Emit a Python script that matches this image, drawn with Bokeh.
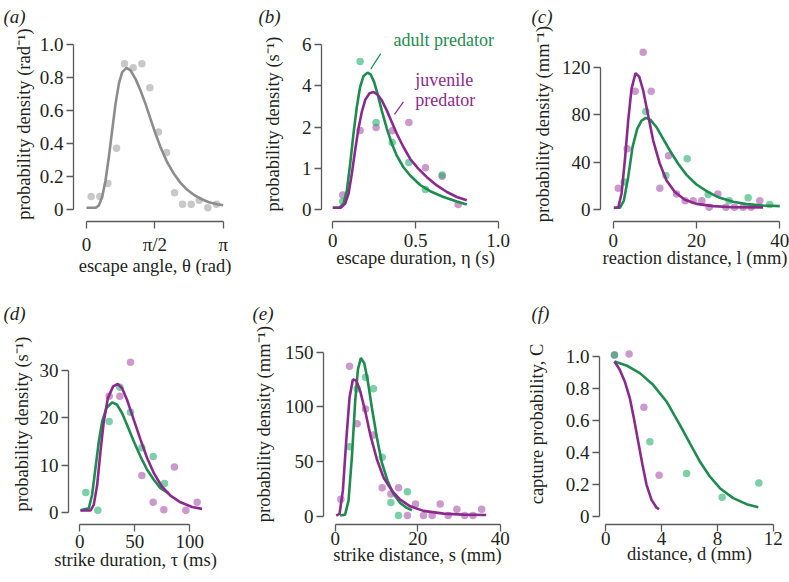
import numpy as np
from bokeh.plotting import figure
from bokeh.layouts import row, column
from bokeh.models import Label, FixedTicker, Range1d, Title
from bokeh.embed import file_html
from bokeh.resources import INLINE

SERIF = "Liberation Serif"
FS = "19px"
FS_LABEL = "18.5px"
GREEN_LINE = "#1e8c4e"
PURPLE_LINE = "#8b2a8d"
GREEN_PT = "#25af6b"
PURPLE_PT = "#aa55aa"
GRAY_LINE = "#8c8c8c"
GRAY_PT = "#c8c8c8"
AXIS_COLOR = "#5a5a5a"
TEXT_COLOR = "#231f20"

# ---------------- data ----------------
# (a) escape angle
a_bin_x = [0.107, 0.307, 0.49, 0.69, 0.873, 1.073, 1.272, 1.456, 1.655, 1.839,
           2.023, 2.207, 2.406, 2.59, 2.789, 2.988]
a_bin_y = [0.081, 0.081, 0.159, 0.373, 0.883, 0.859, 0.883, 0.738, 0.47, 0.347,
           0.103, 0.034, 0.034, 0.058, 0.012, 0.034]
a_fit_x = [0, 0.207, 0.283, 0.36, 0.437, 0.513, 0.59, 0.667, 0.743, 0.82, 0.92,
           1.011, 1.126, 1.241, 1.356, 1.471, 1.586, 1.701, 1.854, 2.007, 2.161,
           2.314, 2.467, 2.621, 2.812, 3.003, 3.141]
a_fit_y = [0.012, 0.012, 0.026, 0.077, 0.177, 0.318, 0.48, 0.641, 0.762, 0.833,
           0.859, 0.843, 0.792, 0.722, 0.641, 0.55, 0.46, 0.379, 0.288, 0.218,
           0.163, 0.121, 0.091, 0.067, 0.046, 0.034, 0.028]

# (b) escape duration (values in axis-label units: ticks 0,1,2,4,6)
b_adult_x = [0.06, 0.165, 0.262, 0.359, 0.46, 0.56, 0.661]
b_adult_y = [0.2, 5.18, 2.22, 1.63, 1.145, 0.49, 0.84]
b_juv_x = [0.06, 0.165, 0.262, 0.359, 0.46, 0.56, 0.661, 0.758]
b_juv_y = [0.36, 1.92, 1.99, 1.91, 2.22, 1.02, 0.81, 0.13]
b_adult_fit_x = [0, 0.04, 0.065, 0.085, 0.105, 0.125, 0.145, 0.165, 0.185, 0.21,
                 0.23, 0.25, 0.27, 0.296, 0.327, 0.357, 0.387, 0.427, 0.468,
                 0.528, 0.589, 0.669, 0.75, 0.81]
b_adult_fit_y = [0.05, 0.05, 0.15, 0.47, 1.11, 1.84, 2.96, 3.94, 4.46, 4.64,
                 4.54, 4.18, 3.62, 2.80, 1.96, 1.60, 1.31, 1.03, 0.83, 0.60,
                 0.45, 0.31, 0.20, 0.13]
b_juv_fit_x = [0, 0.048, 0.075, 0.095, 0.115, 0.135, 0.155, 0.175, 0.196, 0.222,
               0.246, 0.27, 0.296, 0.327, 0.357, 0.387, 0.427, 0.468, 0.518,
               0.569, 0.629, 0.69, 0.75, 0.81]
b_juv_fit_y = [0.05, 0.05, 0.15, 0.39, 0.87, 1.44, 1.96, 2.72, 3.32, 3.64, 3.70,
               3.58, 3.30, 2.80, 2.24, 1.84, 1.52, 1.23, 0.99, 0.79, 0.59, 0.43,
               0.31, 0.23]
b_tick_values = [0, 1, 2, 4, 6]

# (c) reaction distance
c_juv_x = [1.2, 3.36, 5.28, 7.2, 9.12, 11.2, 13.28, 15.2, 17.28, 19.2, 21.28,
           23.04, 25.12, 27.04, 29.12, 31.2, 33.12, 35.2]
c_juv_y = [18.2, 51.3, 99.8, 132.6, 99.8, 18.2, 45.4, 13.2, 7.6, 7.6, 7.6, 2.2,
           13.2, 2.2, 2.2, 2.2, 2.2, 7.6]
c_adult_x = [2.64, 7.84, 12.64, 17.76, 22.8, 27.84, 32.4, 37.6]
c_adult_y = [23.3, 82.7, 28.9, 42.9, 12.9, 7.6, 10.1, 4.5]
c_juv_fit_x = [0.16, 1.2, 2.0, 2.8, 3.6, 4.4, 5.36, 6.24, 7.2, 8.4, 9.6, 11.2,
               12.8, 14.8, 17.2, 20, 24, 28.8, 36]
c_juv_fit_y = [1.7, 1.7, 13.5, 41.5, 75.1, 101.8, 115, 112.1, 100.4, 79.3, 58.3,
               38.7, 24.7, 14.9, 8.4, 5.0, 3.1, 2.2, 2.0]
c_adult_fit_x = [0.16, 1.6, 2.56, 3.6, 4.64, 5.76, 6.8, 7.84, 8.96, 10.4, 12,
                 13.6, 15.6, 17.6, 20, 22.8, 25.6, 28.8, 32, 36, 40]
c_adult_fit_y = [1.7, 1.7, 7.8, 27.5, 52.7, 68.1, 75.1, 77.4, 75.7, 69.5, 59.7,
                 49.9, 38.7, 29.4, 21.3, 14.9, 10.1, 6.7, 4.8, 3.6, 3.1]

# (d) strike duration
d_adult_x = [5.45, 16.4, 26.7, 36.4, 46.1, 56.4, 66.7, 77]
d_adult_y = [4.18, 0.42, 19.25, 26.5, 21.2, 13.7, 11.8, 6.1]
d_juv_x = [26.7, 36.4, 46.1, 56.4, 66.7, 76.4, 86, 96.4, 106.7]
d_juv_y = [24.6, 24.6, 31.8, 7.8, 2.1, 0.5, 9.6, 0.42, 2.1]
d_adult_fit_x = [0.6, 8.2, 11.2, 14.2, 17.3, 20.3, 24.2, 29.4, 33.9, 38.5, 43,
                 49.1, 55.2, 61.2, 67.3, 73.3, 80.9]
d_adult_fit_y = [0.4, 0.85, 3.7, 9.3, 15, 19.2, 22.1, 23.3, 22.8, 21, 18.5, 15,
                 11.8, 9.0, 6.9, 5.1, 4.0]
d_juv_fit_x = [0.6, 9.7, 12.7, 15.8, 18.8, 21.8, 25.5, 30.3, 34.5, 38.5, 43,
               49.1, 55.2, 61.2, 67.3, 74.8, 82.4, 91.5, 102.1, 111.2]
d_juv_fit_y = [0.35, 0.35, 1.56, 5.8, 12.9, 19.2, 24.2, 26.7, 27.2, 26.3, 23.8,
               19.6, 15.4, 11.5, 8.3, 5.4, 3.5, 2.1, 1.1, 0.7]

# (e) strike distance
e_juv_x = [1.37, 3.47, 5.33, 7.35, 9.29, 11.39, 13.5, 15.35, 17.5, 19.47, 21.4,
           23.5, 25.45, 27.4, 29.5, 31.4, 33.4, 35.5]
e_juv_y = [15.5, 137.3, 84.7, 98.1, 74.4, 26.1, 20.3, 26.1, 0.6, 11.2, 0.6, 0.6,
           11.2, 0.6, 6.4, 0.6, 0.6, 6.4]
e_adult_x = [3.47, 5.33, 7.35, 9.29, 11.39, 13.5, 15.35, 17.5]
e_adult_y = [63.5, 116.6, 127.2, 116.6, 54.1, 12.5, 0.6, 22.5]
e_juv_fit_x = [0.24, 1.05, 1.86, 2.67, 3.47, 4.28, 5.09, 6.06, 7.27, 8.48, 10.1,
               11.72, 13.74, 15.76, 18.18, 21.4, 26.3, 31.1, 36.6]
e_juv_fit_y = [0.6, 2.1, 23.4, 68.9, 108.4, 125.1, 124.2, 114.5, 96.3, 75, 52.2,
               35.5, 23.4, 15.2, 9.1, 4.9, 2.4, 1.5, 1.2]
e_adult_fit_x = [1.2, 2.4, 3.23, 4.04, 4.85, 5.5, 6.22, 7.03, 7.84, 8.89, 10.1,
                 11.3, 12.69, 14.14, 15.76, 17.37, 18.6]
e_adult_fit_y = [0.6, 1.5, 14.3, 53.8, 105.4, 134.2, 144.8, 140.3, 125.1, 99.3,
                 72, 49.2, 32.5, 20.3, 12.1, 7.6, 5.5]

# (f) capture probability
f_adult_x = [0.62, 3.16, 5.79, 8.34, 10.97]
f_adult_y = [1.01, 0.467, 0.269, 0.121, 0.21]
f_juv_x = [0.62, 1.67, 2.73, 3.82]
f_juv_y = [1.01, 1.015, 0.683, 0.258]
f_juv_fit_x = [0.62, 1.0, 1.36, 1.72, 2.01, 2.32, 2.63, 2.92, 3.28, 3.63, 3.82]
f_juv_fit_y = [0.969, 0.917, 0.844, 0.74, 0.615, 0.469, 0.323, 0.198, 0.104,
               0.056, 0.046]
f_adult_fit_x = [0.62, 1.48, 2.44, 3.39, 4.35, 5.31, 6.02, 6.74, 7.46, 8.18,
                 9.13, 10.09, 10.93]
f_adult_fit_y = [0.969, 0.944, 0.896, 0.823, 0.719, 0.573, 0.458, 0.344, 0.25,
                 0.177, 0.115, 0.077, 0.058]

FIG_H = 291


def make_panel(fig_w, frame, xcal, ycal, xbounds, ybounds, xticks, yticks,
               xlabel, ylabel, letter, letter_x, xstand, ystand):
    L, T, R, B = frame
    xv1, xp1, xv2, xp2 = xcal
    sx = (xp2 - xp1) / (xv2 - xv1)
    x0 = xv1 + (L - xp1) / sx
    x1 = xv1 + (R - xp1) / sx
    yv1, yp1, yv2, yp2 = ycal
    sy = (yp1 - yp2) / (yv2 - yv1)
    y0 = yv1 - (B - yp1) / sy
    y1 = yv1 + (yp1 - T) / sy
    p = figure(width=fig_w, height=FIG_H, x_range=Range1d(x0, x1),
               y_range=Range1d(y0, y1), output_backend="svg",
               toolbar_location=None, min_border_left=L,
               min_border_right=fig_w - R, min_border_top=T,
               min_border_bottom=FIG_H - B)
    p.outline_line_color = None
    p.grid.visible = False
    # panel letter as the title
    p.title.text = letter
    p.title.text_font = SERIF
    p.title.text_font_style = "italic"
    p.title.text_font_size = FS
    p.title.text_color = TEXT_COLOR
    p.title.align = "left"
    p.title.offset = letter_x - L
    p.title.standoff = 0
    p.title.vertical_align = "bottom"
    for ax in (p.xaxis[0], p.yaxis[0]):
        ax.axis_line_color = AXIS_COLOR
        ax.axis_line_width = 1.3
        ax.major_tick_line_color = AXIS_COLOR
        ax.major_tick_line_width = 1.3
        ax.major_tick_out = 7
        ax.major_tick_in = 0
        ax.minor_tick_line_color = None
        ax.major_label_text_font = SERIF
        ax.major_label_text_font_size = FS
        ax.major_label_text_color = TEXT_COLOR
        ax.axis_label_text_font = SERIF
        ax.axis_label_text_font_size = FS_LABEL
        ax.axis_label_text_font_style = "normal"
        ax.axis_label_text_color = TEXT_COLOR
    xa, ya = p.xaxis[0], p.yaxis[0]
    xa.bounds = xbounds
    ya.bounds = ybounds
    xa.ticker = FixedTicker(ticks=[t for t, _ in xticks])
    xa.major_label_overrides = {t: s for t, s in xticks}
    ya.ticker = FixedTicker(ticks=[t for t, _ in yticks])
    ya.major_label_overrides = {t: s for t, s in yticks}
    ya.axis_label = ylabel
    xa.major_label_standoff = xstand[0]
    ya.major_label_standoff, ya.axis_label_standoff = ystand
    # x-axis label as a title below the axis
    p.add_layout(Title(text=xlabel, align="center", vertical_align="bottom",
                       standoff=xstand[1], text_font=SERIF,
                       text_font_size=FS_LABEL, text_font_style="normal",
                       text_color=TEXT_COLOR), "below")
    return p


def pts(p, x, y, color, alpha=0.6):
    p.scatter(x, y, size=7.5, fill_color=color, fill_alpha=alpha,
              line_color=None)


def curve(p, x, y, color):
    p.line(x, y, line_color=color, line_width=2.6)


dec = lambda vals: [(v, ("0" if v == 0 else f"{v:.1f}")) for v in vals]

# ---- (a)
pa = make_panel(250, (73, 26, 236, 221), (0, 86, np.pi, 222.7), (0, 209.3, 1, 44),
                (0, np.pi), (0, 1),
                [(0, "0"), (np.pi / 2, "π/2"), (np.pi, "π")],
                dec([0, 0.2, 0.4, 0.6, 0.8, 1.0]),
                "escape angle, θ (rad)", "probability density (rad⁻¹)",
                "(a)", 3, (5, -7), (3, 3))
pts(pa, a_bin_x, a_bin_y, GRAY_PT, 1.0)
curve(pa, a_fit_x, a_fit_y, GRAY_LINE)

# ---- (b)
b_pos_ticks = [0, 1, 2, 3, 4]
bpos = lambda v: list(np.interp(v, b_tick_values, b_pos_ticks))
pb = make_panel(272, (71, 26, 259, 221), (0, 82.3, 1, 247.7), (0, 209.3, 4, 44),
                (0, 1), (0, 4),
                [(0, "0"), (0.5, "0.5"), (1.0, "1.0")],
                [(pp, str(v)) for pp, v in zip(b_pos_ticks, b_tick_values)],
                "escape duration, η (s)", "probability density (s⁻¹)",
                "(b)", 8, (5, -7), (3, 16))
pts(pb, b_juv_x, bpos(b_juv_y), PURPLE_PT)
pts(pb, b_adult_x, bpos(b_adult_y), GREEN_PT)
curve(pb, b_adult_fit_x, bpos(b_adult_fit_y), GREEN_LINE)
curve(pb, b_juv_fit_x, bpos(b_juv_fit_y), PURPLE_LINE)
for txt, x, y, col in [("adult predator", 0.367, 4.10, GREEN_LINE),
                       ("juvenile", 0.498, 3.13, PURPLE_LINE),
                       ("predator", 0.498, 2.65, PURPLE_LINE)]:
    pb.add_layout(Label(x=x, y=y, text=txt, text_font=SERIF, text_font_size="18px",
                        text_color=col, text_align="left", text_baseline="middle"))
pb.segment(x0=[0.29, 0.427], y0=[3.78, 2.61], x1=[0.23, 0.373], y1=[3.41, 2.31],
           line_color=[GREEN_LINE, PURPLE_LINE], line_width=1.2)

# ---- (c)
pc = make_panel(267, (78, 26, 267, 221), (0, 90.7, 40, 257.3), (0, 209.3, 120, 66.7),
                (0, 40), (0, 120),
                [(0, "0"), (20, "20"), (40, "40")],
                [(0, "0"), (40, "40"), (80, "80"), (120, "120")],
                "reaction distance, l (mm)", "probability density (mm⁻¹)",
                "(c)", 9, (5, -7), (3, 6))
pts(pc, c_juv_x, c_juv_y, PURPLE_PT)
pts(pc, c_adult_x, c_adult_y, GREEN_PT)
curve(pc, c_adult_fit_x, c_adult_fit_y, GREEN_LINE)
curve(pc, c_juv_fit_x, c_juv_fit_y, PURPLE_LINE)

# ---- (d)
pd_ = make_panel(250, (68, 32, 202, 233), (0, 79.3, 100, 189.3), (0, 220.7, 30, 79.3),
                 (0, 100), (0, 30),
                 [(0, "0"), (50, "50"), (100, "100")],
                 [(0, "0"), (10, "10"), (20, "20"), (30, "30")],
                 "strike duration, τ (ms)", "probability density (s⁻¹)",
                 "(d)", 3, (3, -5), (3, 5))
pts(pd_, d_juv_x, d_juv_y, PURPLE_PT)
pts(pd_, d_adult_x, d_adult_y, GREEN_PT)
curve(pd_, d_adult_fit_x, d_adult_fit_y, GREEN_LINE)
curve(pd_, d_juv_fit_x, d_juv_fit_y, PURPLE_LINE)

# ---- (e)
pe = make_panel(272, (73, 32, 261, 234), (0, 84.7, 40, 249.7), (0, 225.7, 150, 61),
                (0, 40), (0, 150),
                [(0, "0"), (20, "20"), (40, "40")],
                [(0, "0"), (50, "50"), (100, "100"), (150, "150")],
                "strike distance, s (mm)", "probability density (mm⁻¹)",
                "(e)", 2, (0, -9), (3, 8))
pts(pe, e_juv_x, e_juv_y, PURPLE_PT)
pts(pe, e_adult_x, e_adult_y, GREEN_PT)
curve(pe, e_adult_fit_x, e_adult_fit_y, GREEN_LINE)
curve(pe, e_juv_fit_x, e_juv_fit_y, PURPLE_LINE)

# ---- (f)
pf = make_panel(267, (77, 32, 257, 233), (0, 83.3, 12, 250.7), (0, 225, 1, 65),
                (0, 12), (0, 1),
                [(0, "0"), (4, "4"), (8, "8"), (12, "12")],
                dec([0, 0.2, 0.4, 0.6, 0.8, 1.0]),
                "distance, d (mm)", "capture probability, C",
                "(f)", 9, (0, -12), (3, 16))
pts(pf, f_juv_x, f_juv_y, PURPLE_PT)
pts(pf, f_adult_x, f_adult_y, GREEN_PT)
curve(pf, f_adult_fit_x, f_adult_fit_y, GREEN_LINE)
curve(pf, f_juv_fit_x, f_juv_fit_y, PURPLE_LINE)

layout = column(row(pa, pb, pc), row(pd_, pe, pf))
open("out.html", "w").write(file_html(layout, INLINE))
